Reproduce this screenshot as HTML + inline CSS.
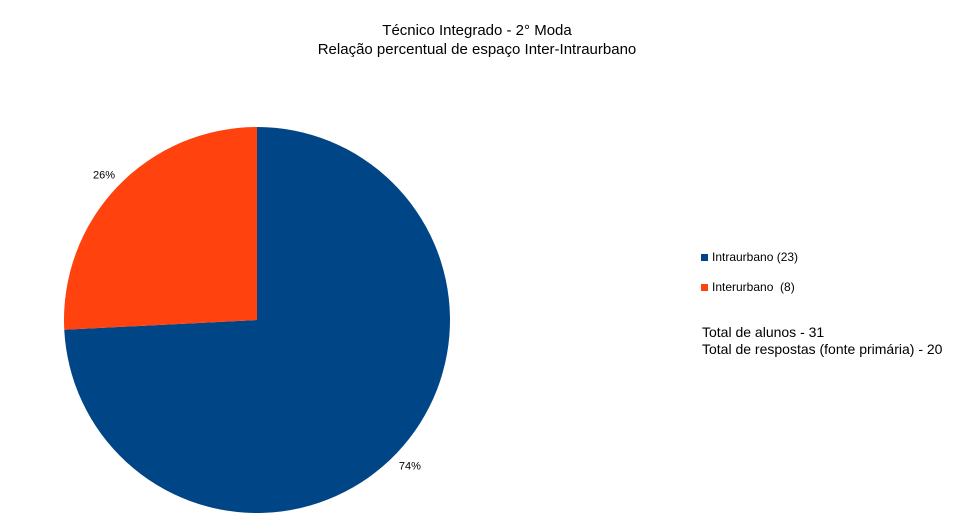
<!DOCTYPE html>
<html><head><meta charset="utf-8"><style>
body{margin:0;width:954px;height:524px;background:#fff;overflow:hidden;font-family:"Liberation Sans",sans-serif}
</style></head><body>
<svg id="chart" width="954" height="524" xmlns="http://www.w3.org/2000/svg" font-family="Liberation Sans, sans-serif">
<text x="477" y="35" text-anchor="middle" font-size="15" fill="#000">Técnico Integrado - 2° Moda</text>
<text x="477" y="54" text-anchor="middle" font-size="15" fill="#000">Relação percentual de espaço Inter-Intraurbano</text>
<g id="slices"></g>
<g>
<rect x="701" y="254" width="7" height="7" fill="#004586"/>
<text x="712" y="261" font-size="12">Intraurbano (23)</text>
<rect x="701" y="284" width="7" height="7" fill="#ff420e"/>
<text x="712" y="291" font-size="12">Interurbano &#160;(8)</text>
</g>
<text x="702" y="337" font-size="14">Total de alunos - 31</text>
<text x="702" y="354" font-size="14">Total de respostas (fonte primária) - 20</text>
</svg>
<script>
const categories = ["Intraurbano", "Interurbano"];
const values = [23, 8];
const colors = ["#004586", "#ff420e"];
const cx = 257, cy = 320, r = 193;
const ns = "http://www.w3.org/2000/svg";
const g = document.getElementById("slices");
const total = values.reduce((a, b) => a + b, 0);
let start = 0;
values.forEach((v, i) => {
  const frac = v / total;
  const a0 = start * 2 * Math.PI, a1 = (start + frac) * 2 * Math.PI;
  const x0 = cx + r * Math.sin(a0), y0 = cy - r * Math.cos(a0);
  const x1 = cx + r * Math.sin(a1), y1 = cy - r * Math.cos(a1);
  const large = frac > 0.5 ? 1 : 0;
  const p = document.createElementNS(ns, "path");
  p.setAttribute("d", `M${cx},${cy} L${x0},${y0} A${r},${r} 0 ${large} 1 ${x1},${y1} Z`);
  p.setAttribute("fill", colors[i]);
  
  
  g.appendChild(p);
  const am = (start + frac / 2) * 2 * Math.PI;
  const lr = r + 18;
  const t = document.createElementNS(ns, "text");
  t.setAttribute("x", cx + lr * Math.sin(am));
  t.setAttribute("y", cy - lr * Math.cos(am) + 4);
  t.setAttribute("text-anchor", "middle");
  t.setAttribute("font-size", "11");
  t.textContent = Math.round(frac * 100) + "%";
  
  
  g.appendChild(t);
  start += frac;
});
</script>
</body></html>
